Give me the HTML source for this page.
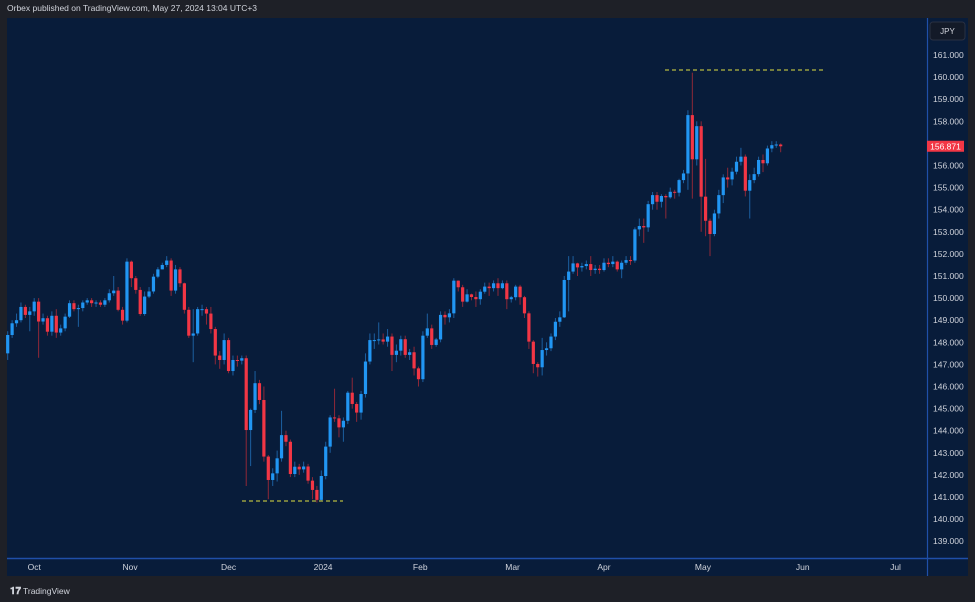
<!DOCTYPE html>
<html><head><meta charset="utf-8"><style>
html,body{margin:0;padding:0;background:#1e2027;}
svg{display:block;font-family:"Liberation Sans",sans-serif;}
</style></head><body>
<svg id="chart" width="975" height="602" viewBox="0 0 975 602">
<rect x="0" y="0" width="975" height="602" fill="#1e2027"/>
<text x="7" y="11" fill="#d1d4dc" font-size="8.5">Orbex published on TradingView.com, May 27, 2024 13:04 UTC+3</text>
<rect x="7" y="18" width="961" height="558" fill="#081c3a"/>
<line x1="927.5" y1="18" x2="927.5" y2="576" stroke="#1f4fa8" stroke-width="1.2"/>
<line x1="7" y1="558.5" x2="968" y2="558.5" stroke="#1f4fa8" stroke-width="1.5"/>
<g id="yticks"></g>
<g id="xticks"></g>
<g id="candles"></g>
<g id="levels"></g>
<rect x="930" y="22" width="35" height="18" rx="3" fill="#131a28" stroke="#2a3142"/>
<text x="947.5" y="34" fill="#d1d4dc" font-size="8" text-anchor="middle">JPY</text>
<g id="lastprice"></g>
<text x="10" y="594" fill="#d1d4dc" font-size="10" font-weight="bold">𝟏𝟕</text>
<text x="23" y="594" fill="#d1d4dc" font-size="8.5">TradingView</text>
</svg>
<script>
const closes=[148.33,148.86,149.0,149.6,149.24,149.4,149.84,148.94,149.09,148.48,
149.2,148.44,148.63,149.16,149.77,149.5,149.55,149.8,149.9,149.77,
149.8,149.7,149.9,150.22,150.34,149.47,148.98,151.65,150.9,150.37,
149.28,150.07,150.3,150.97,151.3,151.5,151.7,150.34,151.3,150.67,
149.47,148.3,148.4,149.5,149.5,149.3,148.6,147.4,147.2,148.1,
146.7,147.2,147.17,147.28,144.03,144.94,146.15,145.39,142.83,141.77,
142.07,142.75,143.8,143.5,142.04,142.37,142.25,142.38,141.74,141.32,
140.87,141.95,143.28,144.6,144.56,144.15,144.45,145.72,145.21,144.82,
145.66,147.13,148.1,148.1,148.13,148.03,148.26,147.43,147.62,148.14,
147.43,147.55,146.82,146.33,148.3,148.63,147.88,148.13,149.24,149.13,
149.31,150.79,150.49,149.84,150.17,150.05,149.95,150.29,150.52,150.45,
150.67,150.45,150.67,149.95,150.04,150.52,150.04,149.31,148.03,147.02,
146.87,147.65,147.73,148.26,148.93,149.13,150.82,151.2,151.57,151.39,
151.45,151.54,151.27,151.33,151.27,151.6,151.54,151.65,151.3,151.6,
151.72,151.7,153.11,153.26,153.2,154.25,154.66,154.36,154.62,154.56,
154.81,154.77,155.34,155.64,158.28,156.28,157.78,154.59,153.5,152.9,
153.83,154.66,155.46,155.37,155.72,156.17,156.4,154.86,155.34,155.61,
156.25,156.1,156.77,156.92,156.95,156.87];
const firstOpen=147.5;
const highs=[148.5,149.0,149.3,149.8,149.7,149.6,150.0,150.0,149.3,149.2,
149.4,149.5,148.8,149.3,149.9,149.9,149.7,149.9,150.0,150.0,
149.9,149.9,150.0,150.4,151.0,150.5,149.6,151.8,151.7,151.0,
150.5,150.3,150.5,151.1,151.4,151.6,151.9,151.8,151.5,151.4,
150.7,149.6,149.5,149.6,149.7,149.6,149.6,148.7,147.6,148.4,
148.2,147.4,147.4,147.4,147.4,145.0,146.7,146.3,146.0,142.9,
142.3,143.1,144.9,144.0,143.6,142.6,142.5,142.6,142.5,141.9,
141.5,142.2,143.5,144.7,145.9,144.7,144.6,145.8,146.4,145.3,
145.8,147.5,148.4,148.4,148.9,148.4,148.6,148.4,147.9,148.3,
148.3,147.7,147.8,146.9,148.5,149.3,148.8,148.2,149.4,149.4,
149.5,150.9,150.8,150.6,150.4,150.2,150.3,150.4,150.7,150.7,
150.8,150.9,150.8,150.8,150.1,150.6,150.6,150.1,149.4,148.1,
147.1,148.2,148.0,148.4,149.1,149.4,151.0,151.9,151.9,151.6,
151.6,151.7,151.9,151.5,151.5,151.8,151.8,151.9,151.7,151.7,
151.9,151.9,153.2,153.6,153.6,154.4,154.8,154.8,154.7,154.7,
155.0,154.9,155.4,155.8,158.5,160.2,158.0,158.0,156.3,153.6,
154.0,154.9,155.6,155.9,155.9,156.4,156.8,156.5,155.6,155.9,
156.4,156.5,156.9,157.1,157.1,157.0];
const lows=[147.2,148.2,148.7,148.9,149.1,148.5,149.2,147.3,148.8,148.3,
148.3,148.2,148.3,148.5,149.1,149.4,148.7,149.4,149.7,149.6,
149.6,149.6,149.6,149.8,150.1,149.4,148.8,148.9,150.5,150.2,
149.2,149.2,150.0,150.2,150.9,151.3,151.4,150.1,150.2,150.5,
149.3,148.2,147.1,148.3,149.2,148.8,148.4,147.0,146.8,147.0,
146.6,146.5,146.9,147.0,141.5,142.4,144.8,145.2,142.6,140.9,
141.5,141.7,142.6,143.3,141.9,141.9,142.0,142.1,141.6,140.9,
140.75,140.8,141.8,143.0,144.4,143.7,143.5,144.3,145.0,144.4,
144.5,145.5,147.0,147.7,147.9,147.9,147.8,146.7,147.1,147.4,
147.3,147.2,146.5,146.0,146.2,148.2,147.7,147.8,148.0,148.8,
148.9,149.1,150.3,149.6,149.8,149.9,149.6,149.7,150.2,150.1,
150.3,150.1,150.4,149.5,149.8,149.9,149.7,149.1,147.7,146.6,
146.45,146.5,147.4,147.6,148.1,148.7,149.1,149.4,151.1,151.0,
151.2,151.3,151.0,151.1,151.1,151.2,151.4,151.4,151.2,150.9,
151.5,151.5,151.6,152.8,152.5,153.0,154.0,154.0,154.1,153.6,
154.5,154.5,154.6,155.2,154.9,154.5,156.0,153.0,152.8,151.9,
152.8,153.6,154.3,155.0,155.1,155.6,156.0,154.6,153.6,155.2,
155.5,155.7,156.0,156.6,156.8,156.6];
const priceTicks=[161,160,159,158,157,156,155,154,153,152,151,150,149,148,147,146,145,144,143,142,141,140,139];
const monthLabels=["Oct","Nov","Dec","2024","Feb","Mar","Apr","May","Jun","Jul"];
const monthBarIndex=[6,27.7,50,71.4,93.4,114.3,135,157.4,180,201];
const lastPrice=156.871;
const lowLevel=140.82, highLevel=160.32;

const NS="http://www.w3.org/2000/svg";
function y(p){return 55+(161-p)*22.1;}
function x(i){return 7.7+i*4.417;}
function mk(tag,attrs,parent){const e=document.createElementNS(NS,tag);for(const k in attrs)e.setAttribute(k,attrs[k]);parent.appendChild(e);return e;}

const yg=document.getElementById('yticks');
priceTicks.forEach(p=>{
  if(Math.abs(p-lastPrice)<0.6) return;
  const t=mk('text',{x:933,y:y(p)+3,fill:'#d1d4dc','font-size':8.5},yg);
  
  
  t.textContent=p.toFixed(3);
});
const xg=document.getElementById('xticks');
monthLabels.forEach((m,k)=>{
  const t=mk('text',{x:x(monthBarIndex[k]),y:570,fill:'#d1d4dc','font-size':8.5,'text-anchor':'middle'},xg);
  
  
  t.textContent=m;
});
const cg=document.getElementById('candles');
closes.forEach((c,i)=>{
  const o=i===0?firstOpen:closes[i-1];
  const up=c>=o;
  const col=up?'#2196f3':'#f23645';
  const wcol=up?'#1c5fa0':'#8e2838';
  const cx=x(i);
  const w=mk('line',{x1:cx,x2:cx,y1:y(highs[i]),y2:y(lows[i]),stroke:wcol,'stroke-width':1},cg);
  
  
  const top=y(Math.max(o,c)),bot=y(Math.min(o,c));
  const b=mk('rect',{x:cx-1.6,y:top,width:3.2,height:Math.max(1,bot-top),fill:col},cg);
  
  
});
const lg=document.getElementById('levels');
const l1=mk('line',{x1:242,x2:343,y1:y(lowLevel),y2:y(lowLevel),stroke:'#b5b840','stroke-width':1.2,'stroke-dasharray':'4 3'},lg);


const l2=mk('line',{x1:665,x2:825,y1:y(highLevel),y2:y(highLevel),stroke:'#b5b840','stroke-width':1.2,'stroke-dasharray':'4 3'},lg);


const lp=document.getElementById('lastprice');
const r=mk('rect',{x:927,y:y(lastPrice)-5.5,width:37,height:11,fill:'#f23645'},lp);


const lt=mk('text',{x:945.5,y:y(lastPrice)+3,fill:'#ffffff','font-size':8.5,'text-anchor':'middle'},lp);


lt.textContent=lastPrice.toFixed(3);
</script>
</body></html>
